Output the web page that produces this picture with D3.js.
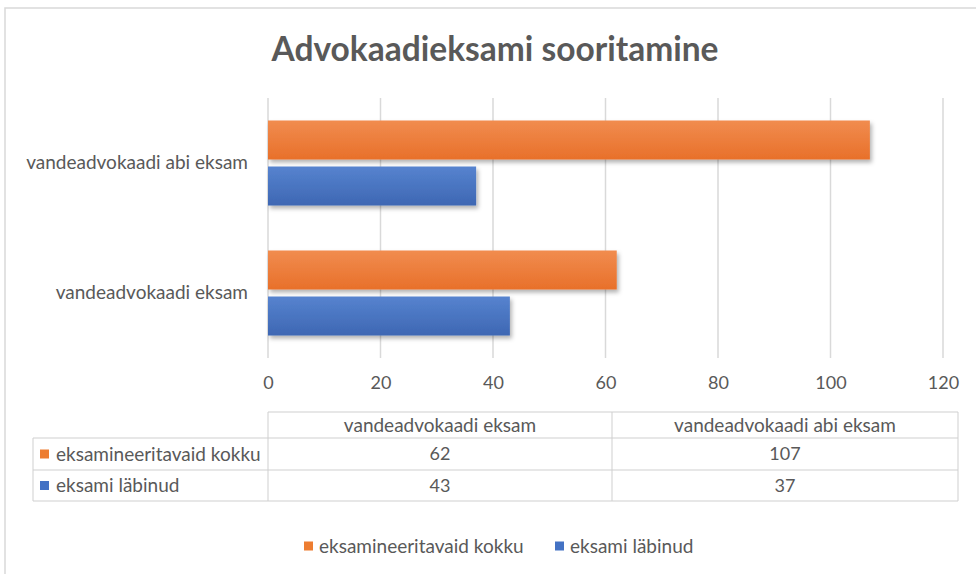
<!DOCTYPE html>
<html>
<head>
<meta charset="utf-8">
<script src="https://cdn.jsdelivr.net/npm/d3@7"></script>
<style>
  body { margin: 0; background: #fff; }
  svg { font-family: Lato, 'Open Sans', sans-serif; }
</style>
</head>
<body>
<div id="chart"></div>
<script>
// ----------------------------DATA-------------------------------//
const title = 'Advokaadieksami sooritamine';
const categories = ['vandeadvokaadi eksam', 'vandeadvokaadi abi eksam'];
const seriesNames = ['eksamineeritavaid kokku', 'eksami läbinud'];
const totalValues = [62, 107];
const passedValues = [43, 37];
const xTicks = [0, 20, 40, 60, 80, 100, 120];
const seriesColors = ['#ED7D31', '#4472C4'];

const width = 976;
const height = 574;
const textColor = '#595959';
const gridColor = '#d9d9d9';

const svg = d3.select('#chart').append('svg')
  .attr('width', width)
  .attr('height', height);

// shadow + gradients
const defs = svg.append('defs');
defs.append('filter')
  .attr('id', 'shadow')
  .attr('x', '-5%').attr('y', '-20%')
  .attr('width', '115%').attr('height', '160%')
  .append('feDropShadow')
  .attr('dx', 2).attr('dy', 3)
  .attr('stdDeviation', 2)
  .attr('flood-color', '#000')
  .attr('flood-opacity', 0.3);

const gradStops = [['#F18C4F', '#E8702A'], ['#5683CF', '#3E67B3']];
gradStops.forEach((s, i) => {
  const g = defs.append('linearGradient')
    .attr('id', `grad${i}`)
    .attr('x1', 0).attr('y1', 0).attr('x2', 0).attr('y2', 1);
  g.append('stop').attr('offset', '0%').attr('stop-color', s[0]);
  g.append('stop').attr('offset', '100%').attr('stop-color', s[1]);
});

// chart frame (only left and top edges visible)
svg.append('path')
  .attr('d', `M5,${height} V8 H${width}`)
  .attr('fill', 'none')
  .attr('stroke', gridColor)
  .attr('stroke-width', 1.5);

// title
svg.append('text')
  .attr('x', 495)
  .attr('y', 61)
  .attr('text-anchor', 'middle')
  .attr('font-size', 33.5)
  .attr('font-weight', 'bold')
  .attr('fill', textColor)
  .text(title);

// ----------------------------SCALES-----------------------------//
const plot = { left: 268, right: 943, top: 98, bottom: 358 };

const xScale = d3.scaleLinear()
  .domain([0, 120])
  .range([plot.left, plot.right]);

const yScale = d3.scaleBand()
  .domain(categories.slice().reverse())
  .range([plot.top, plot.bottom])
  .paddingInner(0.346)
  .paddingOuter(0.173);

const ySub = d3.scaleBand()
  .domain(seriesNames)
  .range([0, yScale.bandwidth()])
  .paddingInner(0.152);

// -----------------------------GRID------------------------------//
svg.append('g')
  .selectAll('line')
  .data(xTicks)
  .join('line')
  .attr('x1', d => xScale(d)).attr('x2', d => xScale(d))
  .attr('y1', plot.top).attr('y2', plot.bottom)
  .attr('stroke', gridColor)
  .attr('stroke-width', 1.5);

// -----------------------------AXES------------------------------//
const xAxis = d3.axisBottom(xScale)
  .tickValues(xTicks)
  .tickSize(0)
  .tickPadding(0);

svg.append('g')
  .attr('transform', `translate(0,${plot.bottom + 31})`)
  .call(xAxis)
  .call(g => g.select('.domain').remove())
  .selectAll('text')
  .attr('font-size', 18)
  .attr('font-family', 'Lato, sans-serif')
  .attr('fill', textColor)
  .attr('dy', 0);

const yAxis = d3.axisLeft(yScale).tickSize(0).tickPadding(20);
svg.append('g')
  .attr('transform', `translate(${plot.left},0)`)
  .call(yAxis)
  .call(g => g.select('.domain').remove())
  .selectAll('text')
  .attr('font-size', 19)
  .attr('font-family', 'Lato, sans-serif')
  .attr('fill', textColor);

// ----------------------------BARS-------------------------------//
const rows = categories.map((c, i) => ({
  category: c,
  values: [
    { series: seriesNames[0], value: totalValues[i], idx: 0 },
    { series: seriesNames[1], value: passedValues[i], idx: 1 },
  ],
}));

const groups = svg.append('g')
  .selectAll('g')
  .data(rows)
  .join('g')
  .attr('transform', d => `translate(0,${yScale(d.category)})`);

groups.selectAll('rect')
  .data(d => d.values)
  .join('rect')
  .attr('x', xScale(0))
  .attr('y', d => ySub(d.series))
  .attr('width', d => xScale(d.value) - xScale(0))
  .attr('height', ySub.bandwidth())
  .attr('fill', d => `url(#grad${d.idx})`)
  .attr('filter', 'url(#shadow)');

// -------------------------DATA TABLE----------------------------//
const table = { left: 33, colStart: 268, divider: 612, right: 958, lines: [412, 438, 470, 501] };
const tableStroke = '#cfcfcf';

// header top line (only over data columns)
svg.append('line')
  .attr('x1', table.colStart).attr('x2', table.right)
  .attr('y1', table.lines[0]).attr('y2', table.lines[0])
  .attr('stroke', tableStroke);
// row lines
table.lines.slice(1).forEach(y => {
  svg.append('line')
    .attr('x1', table.left).attr('x2', table.right)
    .attr('y1', y).attr('y2', y)
    .attr('stroke', tableStroke);
});
// vertical lines
const colEdges = [table.colStart, table.divider, table.right];
colEdges.forEach(x => {
  svg.append('line')
    .attr('x1', x).attr('x2', x)
    .attr('y1', table.lines[0]).attr('y2', table.lines[3])
    .attr('stroke', tableStroke);
});
svg.append('line')
  .attr('x1', table.left).attr('x2', table.left)
  .attr('y1', table.lines[1]).attr('y2', table.lines[3])
  .attr('stroke', tableStroke);

const colCenter = i => (colEdges[i] + colEdges[i + 1]) / 2;

// header labels
categories.forEach((c, i) => {
  svg.append('text')
    .attr('x', colCenter(i))
    .attr('y', (table.lines[0] + table.lines[1]) / 2)
    .attr('dy', '0.35em')
    .attr('text-anchor', 'middle')
    .attr('font-size', 19)
    .attr('fill', textColor)
    .text(c);
});

const tableValues = [totalValues, passedValues];
seriesNames.forEach((s, r) => {
  const yMid = (table.lines[r + 1] + table.lines[r + 2]) / 2;
  svg.append('rect')
    .attr('x', 40).attr('y', yMid - 4.5)
    .attr('width', 9).attr('height', 9)
    .attr('fill', seriesColors[r]);
  svg.append('text')
    .attr('x', 56).attr('y', yMid)
    .attr('dy', '0.35em')
    .attr('font-size', 19)
    .attr('fill', textColor)
    .text(s);
  tableValues[r].forEach((v, i) => {
    svg.append('text')
      .attr('x', colCenter(i))
      .attr('y', yMid)
      .attr('dy', '0.35em')
      .attr('text-anchor', 'middle')
      .attr('font-size', 18)
      .attr('fill', textColor)
      .text(v);
  });
});

// ----------------------------LEGEND-----------------------------//
const legendX = [304, 555];
seriesNames.forEach((s, i) => {
  const g = svg.append('g').attr('transform', `translate(${legendX[i]},546)`);
  g.append('rect')
    .attr('x', 0).attr('y', -4.5)
    .attr('width', 9).attr('height', 9)
    .attr('fill', seriesColors[i]);
  g.append('text')
    .attr('x', 15).attr('y', 0)
    .attr('dy', '0.35em')
    .attr('font-size', 19)
    .attr('fill', textColor)
    .text(s);
});
</script>
</body>
</html>
